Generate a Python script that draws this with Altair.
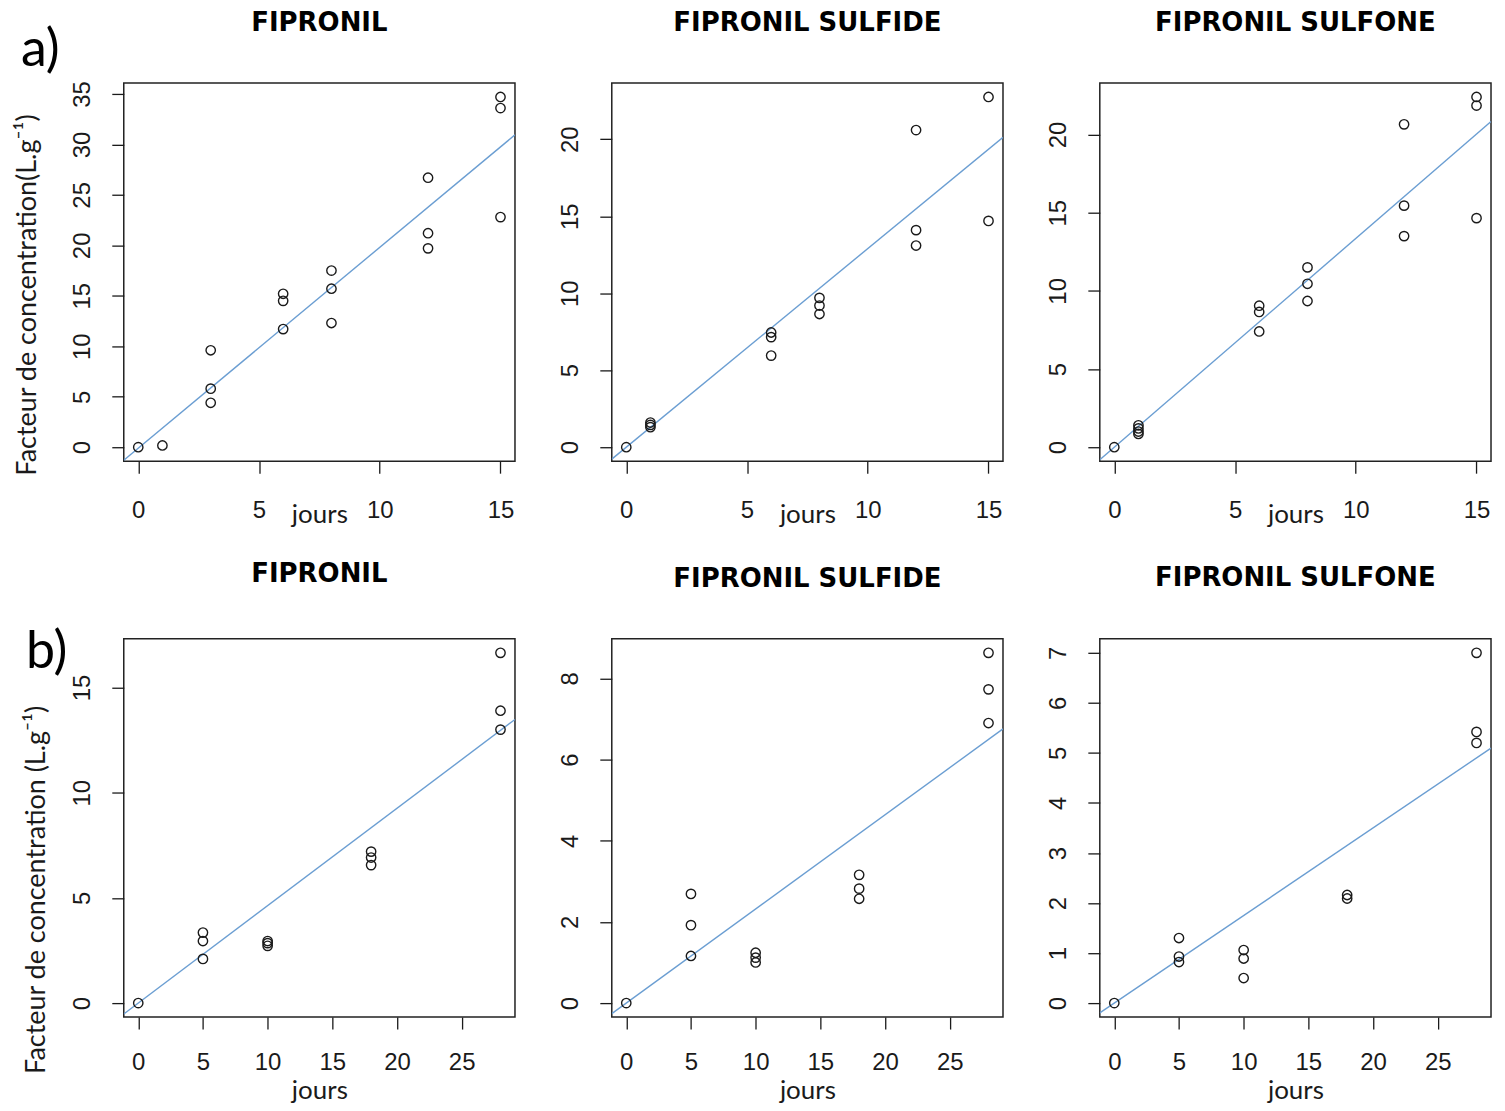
import altair as alt
import pandas as pd

# ---------------- data ----------------
TITLES = ["FIPRONIL", "FIPRONIL SULFIDE", "FIPRONIL SULFONE"]

# a) row : 0-15 jours
a_fip_days = [0, 1, 3, 3, 3, 6, 6, 6, 8, 8, 8, 12, 12, 12, 15, 15, 15]
a_fip_cf = [0.0, 0.17, 9.6, 5.8, 4.4, 15.2, 14.5, 11.7, 17.5, 15.7, 12.3,
            26.7, 21.2, 19.7, 34.7, 33.6, 22.8]

a_sfd_days = [0, 1, 1, 1, 6, 6, 6, 8, 8, 8, 12, 12, 12, 15, 15]
a_sfd_cf = [0.0, 1.6, 1.45, 1.3, 7.45, 7.15, 5.95, 9.7, 9.2, 8.65,
            20.6, 14.1, 13.1, 22.75, 14.7]

a_sfn_days = [0, 1, 1, 1, 1, 6, 6, 6, 8, 8, 8, 12, 12, 12, 15, 15, 15]
a_sfn_cf = [0.0, 1.4, 1.2, 1.0, 0.85, 9.05, 8.65, 7.4, 11.5, 10.45, 9.35,
            20.65, 15.45, 13.5, 22.4, 21.85, 14.65]

# b) row : 0-28 jours
b_fip_days = [0, 5, 5, 5, 10, 10, 10, 18, 18, 18, 28, 28, 28]
b_fip_cf = [0.0, 3.35, 2.95, 2.1, 2.95, 2.85, 2.72, 7.2, 6.92, 6.56,
            16.65, 13.9, 13.0]

b_sfd_days = [0, 5, 5, 5, 10, 10, 10, 18, 18, 18, 28, 28, 28]
b_sfd_cf = [0.0, 2.69, 1.92, 1.16, 1.24, 1.12, 1.0, 3.16, 2.82, 2.57,
            8.63, 7.73, 6.9]

b_sfn_days = [0, 5, 5, 5, 10, 10, 10, 18, 18, 28, 28, 28]
b_sfn_cf = [0.0, 1.3, 0.93, 0.82, 1.06, 0.89, 0.5, 2.16, 2.09,
            7.0, 5.42, 5.2]

# fitted lines (slope, intercept)
a_slopes = [1.99, 1.29, 1.335]
a_intercepts = [-0.1, 0.0, 0.0]
b_slopes = [0.463, 0.232, 0.175]
b_intercepts = [0.0, 0.0, 0.0]

a_xticks = [0, 5, 10, 15]
b_xticks = [0, 5, 10, 15, 20, 25]
a_yticks = [[0, 5, 10, 15, 20, 25, 30, 35], [0, 5, 10, 15, 20], [0, 5, 10, 15, 20]]
b_yticks = [[0, 5, 10, 15], [0, 2, 4, 6, 8], [0, 1, 2, 3, 4, 5, 6, 7]]

YTITLE_A = "Facteur de concentration(L.g⁻¹)"
YTITLE_B = "Facteur de concentration (L.g⁻¹)"

INK = "#1a1a1a"
LINE_BLUE = "#6b9ed2"
PW, PH = 392, 379


def rdomain(vals):
    lo, hi = min(vals), max(vals)
    r = hi - lo
    return [lo - 0.04 * r, hi + 0.04 * r]


def panel(xs, ys, slope, intercept, xticks, yticks, title,
          xtitle_y, title_y, label_pad, ytitle=None, ytitle_x=0, ytitle_y=0,
          letter=None, letter_x=0, letter_y=0):
    df = pd.DataFrame({"jours": xs, "cf": ys})
    xdom = rdomain(xs)
    ydom = rdomain(ys)
    xscale = alt.Scale(domain=xdom, nice=False, zero=False)
    yscale = alt.Scale(domain=ydom, nice=False, zero=False)

    xaxis = alt.Axis(values=xticks, title="jours", grid=False, domain=False,
                     tickSize=12, tickColor=INK, tickWidth=1.3,
                     labelFont="Liberation Sans", labelFontSize=24,
                     labelColor=INK, labelBaseline="alphabetic",
                     labelPadding=label_pad, labelAlign="center", labelAngle=0,
                     labelFlush=False, labelOverlap=False,
                     titleFont="Lato", titleFontSize=26,
                     titleFontWeight="normal", titleColor=INK,
                     titleY=xtitle_y, titleBaseline="alphabetic")
    ykw = dict(values=yticks, grid=False, domain=False,
               tickSize=12, tickColor=INK, tickWidth=1.3,
               labelFont="Liberation Sans", labelFontSize=24,
               labelColor=INK, labelAngle=270, labelAlign="center",
               labelBaseline="alphabetic", labelPadding=22,
               labelFlush=False, labelOverlap=False)
    if ytitle:
        yaxis = alt.Axis(title=ytitle, titleFont="Lato", titleFontSize=27,
                         titleFontWeight="normal", titleColor=INK,
                         titleAngle=270, titleX=ytitle_x, titleY=ytitle_y,
                         titleAlign="center", titleBaseline="alphabetic",
                         **ykw)
    else:
        yaxis = alt.Axis(title=None, **ykw)

    xenc = alt.X("jours:Q", scale=xscale, axis=xaxis)
    yenc = alt.Y("cf:Q", scale=yscale, axis=yaxis)

    line_df = pd.DataFrame({"jours": xdom,
                            "cf": [intercept + slope * v for v in xdom]})
    line = alt.Chart(line_df).mark_line(color=LINE_BLUE, strokeWidth=1.4,
                                        clip=True).encode(x=xenc, y=yenc)
    pts = alt.Chart(df).mark_point(shape="circle", filled=False, color=INK,
                                   size=88, strokeWidth=1.4,
                                   opacity=1).encode(x=xenc, y=yenc)
    tdf = pd.DataFrame({"t": [title]})
    ttl = alt.Chart(tdf).mark_text(
        font="DejaVu Sans", fontSize=26, fontWeight="bold", align="center",
        baseline="alphabetic", color="#000").encode(
        text="t:N", x=alt.value(PW / 2), y=alt.value(title_y))
    layers = [line, pts, ttl]
    if letter:
        ldf = pd.DataFrame({"lab": [letter]})
        layers.append(alt.Chart(ldf).mark_text(
            font="Lato", fontSize=52, align="left", baseline="alphabetic",
            color="#000").encode(text="lab:N", x=alt.value(letter_x),
                                 y=alt.value(letter_y)))
    return alt.layer(*layers).properties(width=PW, height=PH)


a_data = [(a_fip_days, a_fip_cf), (a_sfd_days, a_sfd_cf), (a_sfn_days, a_sfn_cf)]
b_data = [(b_fip_days, b_fip_cf), (b_sfd_days, b_sfd_cf), (b_sfn_days, b_sfn_cf)]
a_title_y = [-52, -52, -52]
b_title_y = [-57, -52, -53]

panels = []
for i in range(3):
    kw = {}
    if i == 0:
        kw = dict(ytitle=YTITLE_A, ytitle_x=-88, ytitle_y=212,
                  letter="a)", letter_x=-103, letter_y=-17)
    panels.append(panel(a_data[i][0], a_data[i][1], a_slopes[i], a_intercepts[i],
                        a_xticks, a_yticks[i], TITLES[i],
                        xtitle_y=61, title_y=a_title_y[i], label_pad=44, **kw))
for i in range(3):
    kw = {}
    if i == 0:
        kw = dict(ytitle=YTITLE_B, ytitle_x=-79, ytitle_y=251,
                  letter="b)", letter_x=-98, letter_y=29)
    panels.append(panel(b_data[i][0], b_data[i][1], b_slopes[i], b_intercepts[i],
                        b_xticks, b_yticks[i], TITLES[i],
                        xtitle_y=82, title_y=b_title_y[i], label_pad=41, **kw))

chart = alt.concat(
    *panels, columns=3, spacing={"row": 178, "column": 97}
).properties(
    bounds="flush",
    padding={"left": 5, "top": 0, "right": 5, "bottom": 5},
    background="white",
).configure_view(stroke="#222", strokeWidth=1.5)

chart.save("out.html", embed_options={"renderer": "svg", "actions": False})
